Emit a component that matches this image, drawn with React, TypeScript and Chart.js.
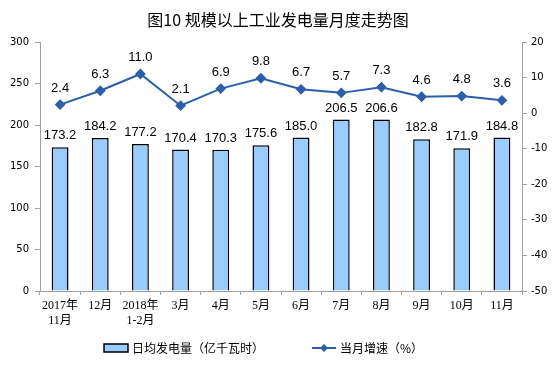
import React, { useEffect, useRef } from "react";
import { Chart, registerables } from "chart.js";
Chart.register(...registerables);

const categories: (string | string[])[] = [
  ["2017年", "11月"], "12月", ["2018年", "1-2月"], "3月", "4月", "5月", "6月", "7月", "8月", "9月", "10月", "11月",
];
const dailyOutput = [173.2, 184.2, 177.2, 170.4, 170.3, 175.6, 185.0, 206.5, 206.6, 182.8, 171.9, 184.8];
const growthRate = [2.4, 6.3, 11.0, 2.1, 6.9, 9.8, 6.7, 5.7, 7.3, 4.6, 4.8, 3.6];
const title = "图10 规模以上工业发电量月度走势图";
const barLegend = "日均发电量（亿千瓦时）";
const lineLegend = "当月增速（%）";

const LINE_COLOR = "#2b5fad";
const BAR_COLOR = "#99ccff";
const CJK = '"Noto Sans CJK SC", sans-serif';

const overlay = {
  id: "overlay",
  afterDraw(chart: any) {
    const ctx = chart.ctx as CanvasRenderingContext2D;
    ctx.save();
    // title
    ctx.fillStyle = "#000";
    ctx.font = `16px ${CJK}`;
    ctx.textAlign = "center";
    ctx.textBaseline = "middle";
    ctx.fillText(title, 278, 20);

    // bar labels
    ctx.font = '13px "Liberation Sans", Arial, sans-serif';
    ctx.textBaseline = "bottom";
    const m0 = chart.getDatasetMeta(0);
    m0.data.forEach((el: any, i: number) => {
      ctx.fillText(dailyOutput[i].toFixed(1), el.x, el.y - 5);
    });
    const m1 = chart.getDatasetMeta(1);
    m1.data.forEach((el: any, i: number) => {
      ctx.fillText(growthRate[i].toFixed(1), el.x, el.y - 10);
    });

    // legend
    const ly = 348;
    ctx.fillStyle = BAR_COLOR;
    ctx.fillRect(104, ly - 4, 24, 8);
    ctx.strokeStyle = "#000";
    ctx.lineWidth = 1.5;
    ctx.strokeRect(104, ly - 4, 24, 8);
    ctx.fillStyle = "#000";
    ctx.font = `12px ${CJK}`;
    ctx.textAlign = "left";
    ctx.textBaseline = "middle";
    ctx.fillText(barLegend, 132, ly);

    ctx.strokeStyle = LINE_COLOR;
    ctx.lineWidth = 2;
    ctx.beginPath();
    ctx.moveTo(312, ly);
    ctx.lineTo(336, ly);
    ctx.stroke();
    ctx.fillStyle = LINE_COLOR;
    ctx.beginPath();
    ctx.moveTo(324, ly - 4);
    ctx.lineTo(328, ly);
    ctx.lineTo(324, ly + 4);
    ctx.lineTo(320, ly);
    ctx.closePath();
    ctx.fill();
    ctx.fillStyle = "#000";
    ctx.fillText(lineLegend, 340, ly);
    ctx.restore();
  },
};

export default function App() {
  const ref = useRef<HTMLCanvasElement>(null);
  useEffect(() => {
    document.body.style.margin = "0";
    const chart = new Chart(ref.current!, {
      type: "bar",
      data: {
        labels: categories as any,
        datasets: [
          {
            type: "bar",
            label: barLegend,
            data: dailyOutput,
            backgroundColor: BAR_COLOR,
            borderColor: "#000",
            borderWidth: 1.5,
            barPercentage: 0.42,
            categoryPercentage: 1,
            yAxisID: "y",
            order: 2,
          },
          {
            type: "line",
            label: lineLegend,
            data: growthRate,
            borderColor: LINE_COLOR,
            backgroundColor: LINE_COLOR,
            borderWidth: 2,
            pointStyle: "rectRot",
            pointRadius: 4,
            tension: 0,
            yAxisID: "y1",
            order: 1,
          } as any,
        ],
      },
      options: {
        responsive: false,
        animation: false,
        layout: { padding: { top: 42, left: 0, right: 0, bottom: 0 } },
        plugins: { legend: { display: false }, title: { display: false }, tooltip: { enabled: false } },
        scales: {
          x: {
            grid: { display: true, drawOnChartArea: false, offset: true, tickLength: 4, color: "#a0a0a0" },
            border: { color: "#a0a0a0" },
            ticks: {
              color: "#000",
              font: { family: '"Liberation Serif", "Noto Sans CJK SC", serif', size: 12 },
              maxRotation: 0,
              autoSkip: false,
              padding: 4,
            },
            afterFit(s: any) { s.height = 76; },
          },
          y: {
            position: "left",
            min: 0,
            max: 300,
            grid: { display: true, drawOnChartArea: false, tickLength: 5, color: "#a0a0a0" },
            border: { color: "#a0a0a0" },
            ticks: { stepSize: 50, color: "#000", font: { family: '"DejaVu Sans", sans-serif', size: 10 }, padding: 6 },
            afterFit(s: any) { s.width = 40; },
          },
          y1: {
            position: "right",
            min: -50,
            max: 20,
            grid: { display: true, drawOnChartArea: false, tickLength: 5, color: "#a0a0a0" },
            border: { color: "#a0a0a0" },
            ticks: { stepSize: 10, color: "#000", font: { family: '"DejaVu Sans", sans-serif', size: 10 }, padding: 4 },
            afterFit(s: any) { s.width = 35; },
          },
        },
      } as any,
      plugins: [overlay],
    });
    return () => chart.destroy();
  }, []);
  return (
    <div style={{ width: 557, height: 367, background: "#fff" }}>
      <canvas ref={ref} width={557} height={367} />
    </div>
  );
}
